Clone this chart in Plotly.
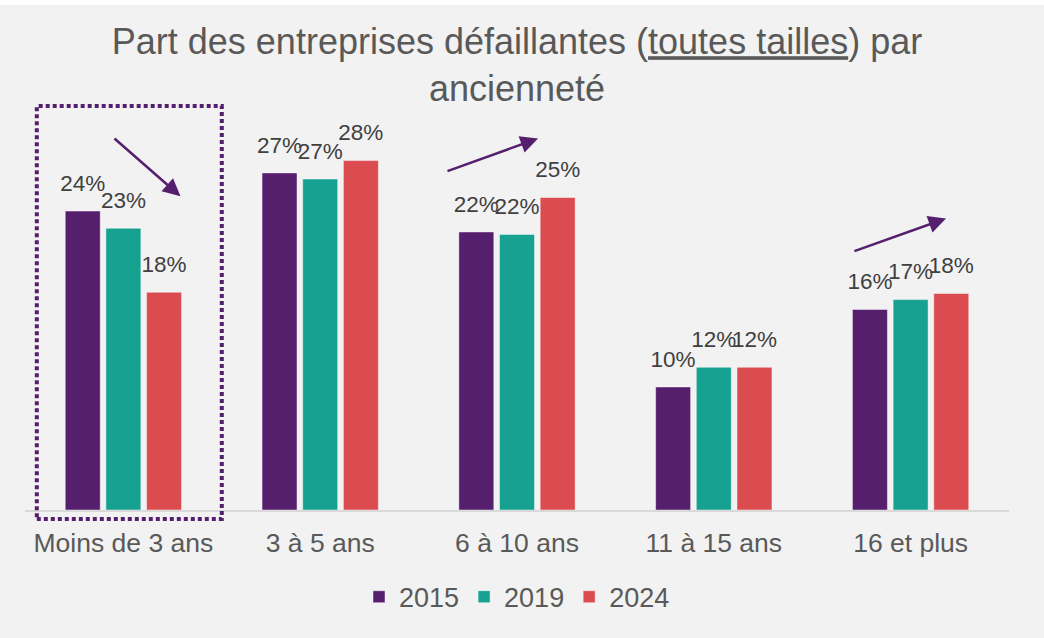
import plotly.graph_objects as go

categories = ["Moins de 3 ans", "3 à 5 ans", "6 à 10 ans", "11 à 15 ans", "16 et plus"]
years = ["2015", "2019", "2024"]
values_2015 = [24.3, 27.4, 22.6, 10.0, 16.3]
values_2019 = [22.9, 26.9, 22.4, 11.6, 17.1]
values_2024 = [17.7, 28.4, 25.4, 11.6, 17.6]
labels_2015 = ["24%", "27%", "22%", "10%", "16%"]
labels_2019 = ["23%", "27%", "22%", "12%", "17%"]
labels_2024 = ["18%", "28%", "25%", "12%", "18%"]
colors = ["#561F6E", "#17A191", "#DA4C50"]

series = [values_2015, values_2019, values_2024]
labels = [labels_2015, labels_2019, labels_2024]

FONT = "Liberation Sans, Arial, sans-serif"
PURPLE = "#561F6E"

fig = go.Figure()
for yr, vals, col in zip(years, series, colors):
    fig.add_trace(go.Bar(
        x=categories, y=vals, name=yr, marker_color=col,
        marker_line=dict(color="rgba(255,255,255,0.45)", width=1),
        hoverinfo="skip",
    ))
# text labels aligned on bars via scatter group mode (invisible markers give spacing)
for yr, vals, lab in zip(years, series, labels):
    fig.add_trace(go.Scatter(
        x=categories, y=vals, text=lab, mode="markers+text",
        textposition="top center",
        marker=dict(size=22, color="rgba(0,0,0,0)"),
        textfont=dict(family=FONT, size=22.5, color="#404040"),
        showlegend=False, hoverinfo="skip", cliponaxis=False,
    ))

# dotted highlight box around first category
fig.add_shape(type="rect", xref="x", yref="paper",
              x0=-0.44, x1=0.50, y0=-0.022, y1=0.995,
              line=dict(color=PURPLE, width=4, dash="4px,3px"),
              fillcolor="rgba(0,0,0,0)", layer="above")

# trend arrows
arrows = [((-0.053, 30.3), (0.290, 25.5)),
          ((1.639, 27.5), (2.107, 30.2)),
          ((3.707, 21.0), (4.180, 23.7))]
for (tx, ty), (hx, hy) in arrows:
    fig.add_annotation(x=hx, y=hy, ax=tx, ay=ty, xref="x", yref="y",
                       axref="x", ayref="y", text="", showarrow=True,
                       arrowhead=2, arrowsize=1.4, arrowwidth=2.5,
                       arrowcolor=PURPLE)

# white strip at top of the image
fig.add_shape(type="rect", xref="paper", yref="paper",
              x0=-0.05, x1=1.05, y0=1.244, y1=1.30,
              line=dict(width=0), fillcolor="white", layer="above")

fig.update_layout(
    width=1044, height=638,
    paper_bgcolor="#F2F2F2", plot_bgcolor="#F2F2F2",
    margin=dict(l=25, r=35, t=104, b=128),
    barmode="group", bargap=0.38, bargroupgap=0.14,
    scattermode="group", scattergap=0.38,
    title=dict(
        text="Part des entreprises défaillantes (<u>toutes tailles</u>) par<br>ancienneté",
        x=0.5, xref="paper", xanchor="center",
        y=0.915, yref="container", yanchor="top",
        font=dict(family=FONT, size=36, color="#595959"),
    ),
    xaxis=dict(showgrid=False, zeroline=False, showline=True,
               linecolor="#D9D9D9", linewidth=1.5, ticks="",
               ticklabelstandoff=8,
               tickfont=dict(family=FONT, size=26.5, color="#595959")),
    yaxis=dict(range=[0, 33], visible=False, showgrid=False),
    legend=dict(orientation="h", x=0.5, xanchor="center",
                y=0.064, yref="container", yanchor="middle",
                font=dict(family=FONT, size=27, color="#595959"),
                bgcolor="rgba(0,0,0,0)"),
    showlegend=True,
)

fig.write_html("out.html", config={"displayModeBar": False},
               post_script="document.body.style.margin='0';")
